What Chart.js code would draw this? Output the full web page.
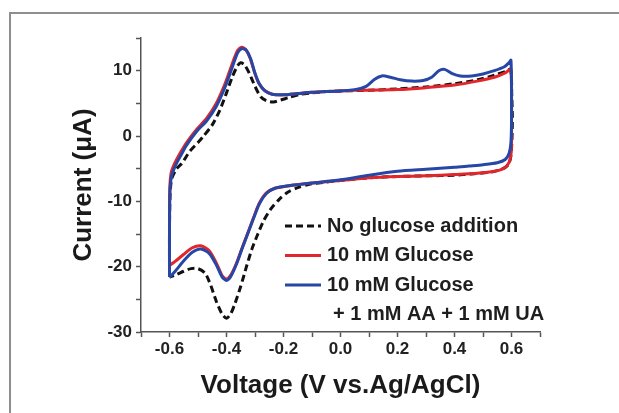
<!DOCTYPE html>
<html>
<head>
<meta charset="utf-8">
<script src="https://cdn.jsdelivr.net/npm/chart.js@4"></script>
<style>
  html, body { margin: 0; padding: 0; background: #fff; }
  #wrap { position: relative; width: 619px; height: 413px; overflow: hidden; }
  #frame { position: absolute; left: 9px; top: 12px; right: -5px; bottom: -5px;
           border-left: 2px solid #8e8e8e; border-top: 2px solid #8e8e8e; }
  canvas { position: absolute; left: 0; top: 0; }
</style>
</head>
<body>
<div id="wrap">
  <div id="frame"></div>
  <canvas id="cv" width="619" height="413"></canvas>
</div>
<script>
// cyclic voltammograms: anodic scan -0.6 -> 0.6 V, then back to -0.6 V
const blankV = [-0.600, -0.600, -0.598, -0.592, -0.575, -0.557, -0.528, -0.500, -0.480, -0.450,
  -0.423, -0.400, -0.380, -0.362, -0.350, -0.337, -0.320, -0.300, -0.280, -0.260,
  -0.235, -0.210, -0.180, -0.140, -0.100, -0.050, 0.000, 0.100, 0.200, 0.300,
  0.400, 0.480, 0.540, 0.580, 0.597,
  0.601, 0.603, 0.602, 0.598, 0.590, 0.570, 0.530, 0.460, 0.400, 0.300,
  0.200, 0.100, 0.000, -0.060, -0.110, -0.150, -0.185, -0.215, -0.245, -0.270,
  -0.290, -0.310, -0.330, -0.350, -0.370, -0.385, -0.400, -0.415, -0.435, -0.455,
  -0.475, -0.500, -0.525, -0.550, -0.575, -0.600];
const blankI = [-21.6, -14.0, -9.0, -6.5, -5.0, -4.2, -2.3, -1.0, 0.0, 1.7,
  4.0, 6.6, 9.0, 10.7, 11.2, 10.9, 9.6, 7.6, 6.0, 5.4,
  5.2, 5.5, 5.9, 6.4, 6.6, 6.8, 6.9, 7.0, 7.2, 7.5,
  8.0, 8.6, 9.3, 9.9, 10.2,
  6.0, 3.0, 0.0, -3.0, -4.3, -5.0, -5.5, -5.8, -6.0, -6.1,
  -6.2, -6.4, -6.8, -7.1, -7.4, -7.9, -8.6, -9.7, -11.2, -13.0,
  -15.0, -17.2, -20.0, -23.0, -25.6, -27.2, -27.9, -27.3, -25.4, -22.9,
  -21.0, -20.3, -20.3, -20.7, -21.2, -21.6];

const glucoseV = [-0.600, -0.600, -0.599, -0.594, -0.582, -0.565, -0.540, -0.505, -0.470, -0.437,
  -0.407, -0.382, -0.362, -0.347, -0.332, -0.317, -0.302, -0.287, -0.267, -0.240,
  -0.200, -0.150, -0.100, -0.050, 0.000, 0.050, 0.100, 0.200, 0.300, 0.400,
  0.480, 0.540, 0.580, 0.597,
  0.600, 0.600, 0.599, 0.592, 0.575, 0.540, 0.480, 0.400, 0.300, 0.200,
  0.100, 0.000, -0.100, -0.180, -0.230, -0.260, -0.285, -0.305, -0.325, -0.345,
  -0.365, -0.385, -0.400, -0.415, -0.435, -0.460, -0.490, -0.520, -0.550, -0.580,
  -0.597, -0.600];
const glucoseI = [-19.8, -13.0, -8.0, -5.6, -4.2, -2.8, -1.0, 1.0, 2.7, 4.9,
  7.8, 10.8, 13.0, 13.6, 13.2, 11.9, 9.8, 8.1, 7.0, 6.4,
  6.3, 6.5, 6.7, 6.8, 6.9, 7.0, 7.0, 7.1, 7.4, 7.8,
  8.4, 9.0, 9.7, 10.2,
  6.0, 0.0, -2.5, -4.0, -4.9, -5.4, -5.7, -5.9, -6.1, -6.2,
  -6.4, -6.8, -7.2, -7.6, -8.0, -8.7, -10.3, -12.5, -14.8, -17.1,
  -19.5, -21.3, -21.9, -21.4, -19.5, -17.6, -16.8, -17.1, -18.1, -19.2,
  -19.7, -19.8];

const mixV = [-0.600, -0.600, -0.598, -0.592, -0.580, -0.563, -0.540, -0.505, -0.470, -0.435,
  -0.405, -0.380, -0.360, -0.345, -0.330, -0.315, -0.300, -0.285, -0.265, -0.240,
  -0.200, -0.150, -0.100, -0.050, 0.000, 0.050, 0.090, 0.120, 0.145, 0.175,
  0.210, 0.250, 0.290, 0.320, 0.345, 0.365, 0.390, 0.420, 0.460, 0.500,
  0.540, 0.575, 0.593, 0.598,
  0.600, 0.600, 0.598, 0.592, 0.578, 0.550, 0.500, 0.450, 0.400, 0.300,
  0.200, 0.100, 0.000, -0.100, -0.180, -0.230, -0.260, -0.285, -0.305, -0.325,
  -0.345, -0.365, -0.385, -0.400, -0.415, -0.435, -0.460, -0.490, -0.520, -0.550,
  -0.580, -0.597, -0.600];
const mixI = [-21.6, -14.0, -8.0, -6.0, -4.6, -3.2, -1.4, 0.7, 2.3, 4.6,
  7.5, 10.5, 12.8, 13.4, 13.1, 11.8, 9.6, 8.0, 6.9, 6.4,
  6.3, 6.5, 6.7, 6.8, 6.9, 7.1, 7.6, 8.7, 9.2, 9.0,
  8.6, 8.4, 8.5, 9.0, 10.0, 10.2, 9.6, 9.2, 9.2, 9.5,
  10.0, 10.6, 11.3, 11.6,
  8.0, 2.0, -1.0, -2.6, -3.6, -4.1, -4.4, -4.6, -4.8, -5.1,
  -5.4, -6.0, -6.7, -7.2, -7.6, -8.0, -8.8, -10.4, -12.6, -14.9,
  -17.2, -19.6, -21.5, -22.1, -21.6, -19.8, -18.0, -17.3, -17.8, -19.1,
  -20.7, -21.5, -21.6];

const seriesNames = ['No glucose addition', '10 mM Glucose', '10 mM Glucose'];
const seriesNote = '+ 1 mM AA + 1 mM UA';
const xTicks = [-0.6, -0.4, -0.2, 0.0, 0.2, 0.4, 0.6];
const yTicks = [-30, -20, -10, 0, 10];

const toPoints = (vs, is) => vs.map((v, k) => ({ x: v, y: is[k] }));

const family = '"Liberation Sans", Arial, sans-serif';
const axisFont = { family, weight: 'bold', size: 17 };
const titleFont = { family, weight: 'bold', size: 26 };

// legend sits inside the plot, lower right
const legendBox = {
  id: 'legendBox',
  afterDatasetsDraw(chart) {
    const ctx = chart.ctx;
    const rowGap = 29.5;
    ctx.save();
    ctx.font = 'bold 20px ' + family;
    ctx.fillStyle = '#1e1e1e';
    ctx.textBaseline = 'middle';
    chart.data.datasets.forEach((ds, i) => {
      const y = 226 + i * rowGap;
      ctx.strokeStyle = ds.borderColor;
      ctx.lineWidth = 3;
      ctx.setLineDash(ds.borderDash || []);
      ctx.beginPath();
      ctx.moveTo(285, y);
      ctx.lineTo(321, y);
      ctx.stroke();
      ctx.fillText(ds.label, 327, y);
    });
    ctx.fillText(seriesNote, 333, 226 + 3 * rowGap);
    ctx.restore();
  }
};

new Chart(document.getElementById('cv'), {
  type: 'scatter',
  data: {
    datasets: [
      {
        label: seriesNames[0],
        data: toPoints(blankV, blankI),
        borderColor: '#111111',
        borderDash: [7, 4],
        borderWidth: 3,
        order: 3
      },
      {
        label: seriesNames[1],
        data: toPoints(glucoseV, glucoseI),
        borderColor: '#e1262c',
        borderWidth: 3,
        order: 2
      },
      {
        label: seriesNames[2],
        data: toPoints(mixV, mixI),
        borderColor: '#2747a6',
        borderWidth: 3,
        order: 1
      }
    ]
  },
  options: {
    responsive: false,
    animation: false,
    showLine: true,
    elements: {
      point: { radius: 0 },
      line: { tension: 0.25, fill: false }
    },
    layout: { padding: { left: 0, top: 38, right: 79, bottom: 0 } },
    plugins: {
      legend: { display: false },
      tooltip: { enabled: false }
    },
    scales: {
      x: {
        type: 'linear',
        min: -0.7,
        max: 0.7,
        afterFit: s => { s.height = 81; },
        border: { color: '#555', width: 1.5 },
        grid: { drawOnChartArea: false, tickLength: 5, tickColor: '#555', tickWidth: 1.5 },
        ticks: {
          stepSize: 0.1,
          autoSkip: false,
          maxRotation: 0,
          padding: 2,
          color: '#222',
          font: axisFont,
          callback: v => {
            const hit = xTicks.find(t => Math.abs(t - v) < 1e-6);
            return hit === undefined ? '' : hit.toFixed(1);
          }
        },
        title: {
          display: true,
          text: 'Voltage (V vs.Ag/AgCl)',
          color: '#1a1a1a',
          font: titleFont,
          padding: { top: 0, bottom: 12 }
        }
      },
      y: {
        min: -30,
        max: 15,
        afterFit: s => { s.width = 141; },
        border: { color: '#555', width: 1.5 },
        grid: { drawOnChartArea: false, tickLength: 5, tickColor: '#555', tickWidth: 1.5 },
        ticks: {
          stepSize: 5,
          autoSkip: false,
          padding: 4,
          color: '#222',
          font: axisFont,
          callback: v => (yTicks.includes(v) ? String(v) : '')
        },
        title: {
          display: true,
          text: 'Current (μA)',
          color: '#1a1a1a',
          font: titleFont,
          padding: { top: 68, bottom: 0 }
        }
      }
    }
  },
  plugins: [legendBox]
});
</script>
</body>
</html>
